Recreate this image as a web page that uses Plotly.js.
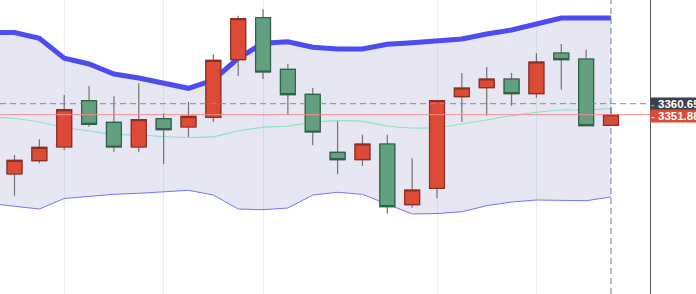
<!DOCTYPE html>
<html>
<head>
<meta charset="utf-8">
<script src="https://cdn.plot.ly/plotly-3.0.1.min.js"></script>
<style>
  html, body { margin: 0; padding: 0; background: #ffffff; }
  #chart { width: 696px; height: 294px; }
</style>
</head>
<body>
<div id="chart"></div>
<script>
// ---- Data ----
// candle index positions 0..24; band series start one period earlier (index -1)
const candleOpen  = [3304.41, 3315.05, 3326.01, 3363.05, 3345.77, 3326.01, 3348.65, 3342.01, 3349.77, 3395.85,
                     3429.45, 3388.17, 3368.17, 3321.77, 3315.85, 3328.41, 3279.85, 3292.97, 3366.25, 3373.45,
                     3380.41, 3368.65, 3401.21, 3396.41, 3343.37];
const candleHigh  = [3319.61, 3332.17, 3367.61, 3374.81, 3366.57, 3376.97, 3352.97, 3362.01, 3400.17, 3431.05,
                     3436.17, 3392.41, 3373.21, 3346.57, 3335.85, 3335.85, 3316.97, 3363.61, 3385.21, 3390.01,
                     3385.21, 3400.97, 3408.41, 3403.85, 3358.25];
const candleLow   = [3287.05, 3312.97, 3323.61, 3342.25, 3322.25, 3321.77, 3312.41, 3334.01, 3346.01, 3382.81,
                     3380.41, 3351.61, 3327.37, 3304.17, 3310.81, 3272.65, 3277.45, 3285.05, 3346.01, 3351.05,
                     3359.05, 3365.45, 3371.85, 3342.81, 3343.05];
const candleClose = [3315.37, 3325.77, 3355.85, 3344.17, 3326.01, 3347.85, 3339.85, 3350.57, 3395.37, 3428.65,
                     3386.01, 3367.85, 3338.01, 3315.85, 3328.41, 3278.25, 3291.61, 3363.21, 3373.21, 3380.41,
                     3368.65, 3394.01, 3395.85, 3343.05, 3351.88];

const bandUpper  = [3417.77, 3417.61, 3412.97, 3396.97, 3392.41, 3384.41, 3381.21, 3376.97, 3372.97, 3379.61,
                    3396.97, 3408.97, 3410.25, 3405.77, 3404.41, 3404.41, 3408.17, 3409.45, 3410.81, 3412.41,
                    3416.41, 3419.61, 3424.41, 3429.21, 3429.21, 3429.21];
const bandMiddle = [3350.01, 3348.81, 3346.01, 3341.61, 3338.81, 3336.01, 3335.61, 3334.41, 3333.61, 3334.25,
                    3338.81, 3341.77, 3342.81, 3345.61, 3347.05, 3346.57, 3342.81, 3341.21, 3341.45, 3344.41,
                    3347.61, 3351.05, 3353.77, 3355.61, 3355.61, 3356.97];
const bandLower  = [3280.81, 3278.81, 3276.41, 3284.81, 3286.25, 3288.17, 3288.97, 3290.01, 3291.37, 3287.61,
                    3276.41, 3275.85, 3277.21, 3287.61, 3289.77, 3288.17, 3280.17, 3272.41, 3272.81, 3274.25,
                    3279.05, 3282.01, 3283.61, 3283.61, 3283.05, 3286.01];

const markPrice = 3360.65;   // dashed horizontal level
const lastPrice = 3351.88;   // red last-price level
const gridIdx = [2, 6, 10, 17, 21];  // vertical grid positions (candle indices)
const priceLabels = ['3360.65', '3351.88'];

// ---- Derived positions ----
const candleX = candleOpen.map((_, i) => i);
const bandX = bandUpper.map((_, i) => i - 1);
const bodyHigh = candleOpen.map((o, i) => Math.max(o, candleClose[i]));
const bodyLow  = candleOpen.map((o, i) => Math.min(o, candleClose[i]));
const lastIdx = candleX[candleX.length - 1];

const xRange = [-0.5835, 25.57];
const yRange = [3208.41, 3443.61];

const upColor = '#dd4a36', upBorder = '#8e2d22';
const dnColor = '#62a07f', dnBorder = '#2e6246';
const wickColor = '#727272';

const traces = [
  // band fill (bottom layer)
  { type: 'scatter', mode: 'lines', x: bandX, y: bandLower, line: { width: 0 },
    hoverinfo: 'skip', showlegend: false },
  { type: 'scatter', mode: 'lines', x: bandX, y: bandUpper, line: { width: 0 },
    fill: 'tonexty', fillcolor: 'rgba(110,110,190,0.17)', hoverinfo: 'skip', showlegend: false },
  // band lines
  { type: 'scatter', mode: 'lines', x: bandX, y: bandLower,
    line: { color: '#7474ff', width: 1 }, showlegend: false },
  { type: 'scatter', mode: 'lines', x: bandX, y: bandMiddle,
    line: { color: '#8fe0c9', width: 1.2, shape: 'spline', smoothing: 0.6 }, showlegend: false },
  { type: 'scatter', mode: 'lines', x: bandX, y: bandUpper,
    line: { color: '#4c4cf0', width: 5, join: 'round' }, showlegend: false },
  // wicks (full candles in grey)
  { type: 'candlestick', xaxis: 'x2', yaxis: 'y2', x: candleX,
    open: candleOpen, high: candleHigh, low: candleLow, close: candleClose,
    increasing: { line: { color: wickColor, width: 1.2 }, fillcolor: upColor },
    decreasing: { line: { color: wickColor, width: 1.2 }, fillcolor: dnColor },
    showlegend: false, hoverinfo: 'skip' },
  // bodies with dark borders
  { type: 'candlestick', xaxis: 'x2', yaxis: 'y2', x: candleX,
    open: candleOpen, high: bodyHigh, low: bodyLow, close: candleClose,
    increasing: { line: { color: upBorder, width: 1.2 }, fillcolor: upColor },
    decreasing: { line: { color: dnBorder, width: 1.2 }, fillcolor: dnColor },
    showlegend: false, hoverinfo: 'skip' }
];

const labelFont = { family: "'Liberation Sans', Arial, sans-serif", size: 11.5, color: '#ffffff', weight: 'bold' };

const layout = {
  width: 696, height: 294,
  margin: { l: 0, r: 46, t: 0, b: 0, pad: 0 },
  paper_bgcolor: '#ffffff', plot_bgcolor: '#ffffff',
  showlegend: false,
  boxgap: 0.4, boxgroupgap: 0,
  xaxis: { range: xRange, tickvals: gridIdx, showticklabels: false, ticks: '',
           showgrid: true, gridcolor: '#e9f0f5', gridwidth: 1, zeroline: false, showline: false,
           rangeslider: { visible: false }, fixedrange: true },
  yaxis: { range: yRange, side: 'right', showgrid: false, showticklabels: false, ticks: '',
           zeroline: false, showline: true, linecolor: '#5a5a62', linewidth: 1.3, fixedrange: true },
  xaxis2: { overlaying: 'x', range: xRange, visible: false, rangeslider: { visible: false }, fixedrange: true },
  yaxis2: { overlaying: 'y', range: yRange, visible: false, fixedrange: true },
  shapes: [
    { type: 'line', xref: 'paper', yref: 'y', x0: 0, x1: 1, y0: markPrice, y1: markPrice,
      line: { color: '#8a8a8a', width: 1, dash: '6px,4px' }, layer: 'above' },
    { type: 'line', xref: 'paper', yref: 'y', x0: 0, x1: 1, y0: lastPrice, y1: lastPrice,
      line: { color: '#f2908a', width: 1 }, layer: 'above' },
    { type: 'line', xref: 'x', yref: 'paper', x0: lastIdx, x1: lastIdx, y0: 0, y1: 1,
      line: { color: '#6d7f92', width: 1, dash: '6px,4px' }, layer: 'above' }
  ],
  annotations: [
    { xref: 'paper', yref: 'y', x: 1, y: markPrice, xanchor: 'left', yanchor: 'middle', yshift: -0.3,
      text: "<span style='color:#9aa0aa'>-</span> " + priceLabels[0], showarrow: false,
      bgcolor: '#3c414d', borderpad: 0, width: 50, height: 11.5, align: 'left',
      font: labelFont },
    { xref: 'paper', yref: 'y', x: 1, y: lastPrice, xanchor: 'left', yanchor: 'middle', yshift: -1.6,
      text: "<span style='color:#f6c0b8'>-</span> " + priceLabels[1], showarrow: false,
      bgcolor: '#dd4a36', borderpad: 0, width: 50, height: 11.5, align: 'left',
      font: labelFont }
  ]
};

Plotly.newPlot('chart', traces, layout, { staticPlot: true, displayModeBar: false });
</script>
</body>
</html>
